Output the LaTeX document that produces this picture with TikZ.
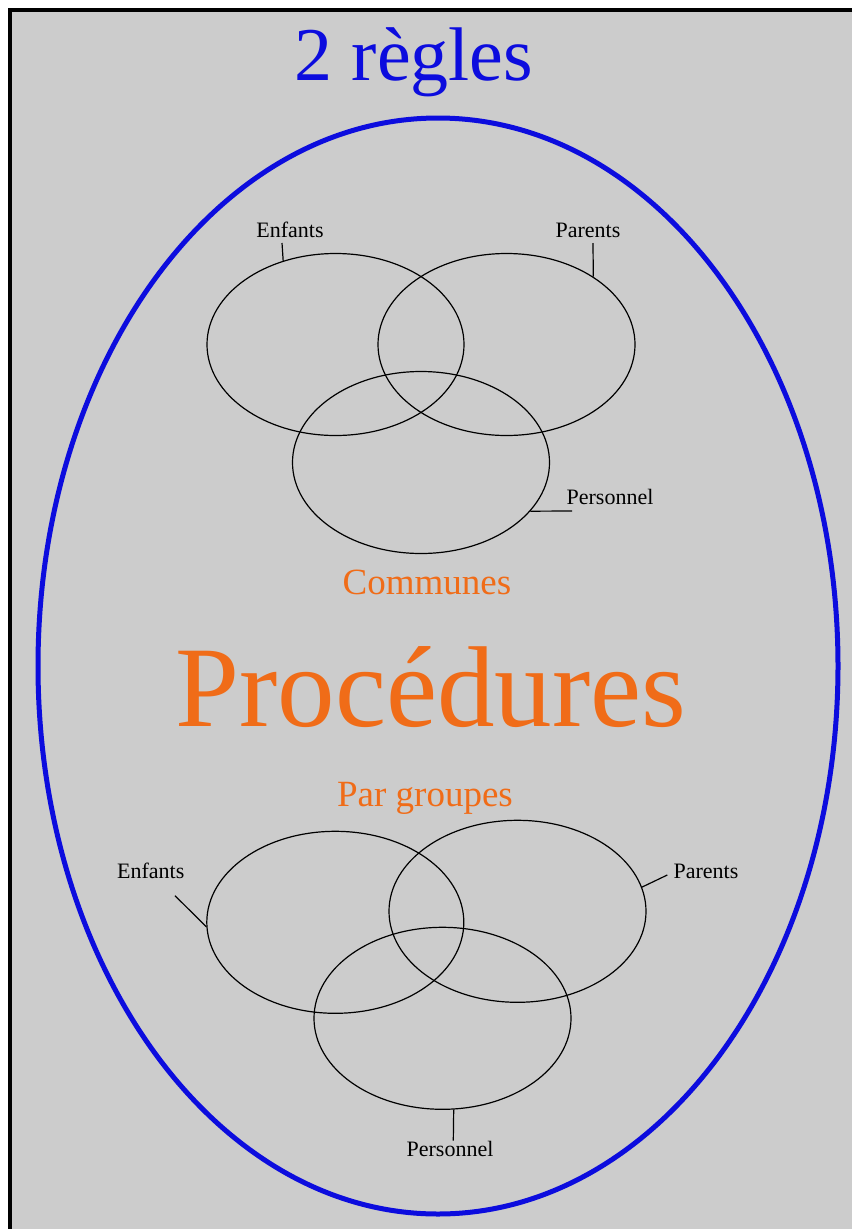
\documentclass[tikz,border=0pt]{standalone}
\usepackage{fontspec}
\setmainfont{Liberation Serif}
\usepackage{xcolor}
\definecolor{regleblue}{RGB}{12,12,222}
\definecolor{orangeproc}{RGB}{240,108,24}
\definecolor{fondgris}{RGB}{204,204,204}
\usepackage{tikz}
\usetikzlibrary{shapes.geometric}
\usetikzlibrary{positioning}

\tikzset{
  vennset/.style={shape=ellipse,draw=black,line width=1.2pt,minimum width=257pt,minimum height=182pt,inner sep=0pt},
  setlabel/.style={font=\fontsize{22}{24}\selectfont,inner sep=0pt,anchor=base},
  leader/.style={line width=1.2pt},
  titre/.style={text=orangeproc,inner sep=0pt,anchor=base}
}

\begin{document}
\begin{tikzpicture}[x=1pt,y=-1pt]
\useasboundingbox (0,0) rectangle (852,1229);
\fill[white] (0,0) rectangle (852,1229);
\fill[fondgris] (10,10) rectangle (852,1229);
\draw[line width=4pt] (852,10) -- (10,10) -- (10,1229);
\draw[regleblue,line width=5pt] (438,666) ellipse [x radius=400, y radius=548];

\node (regles) [anchor=base,inner sep=0pt,text=regleblue,font=\fontsize{76}{80}\selectfont] at (414,80) {2 règles};

\node (communes) [titre,font=\fontsize{37}{40}\selectfont] at (427,594) {Communes};
\node (procedures) [titre,font=\fontsize{115}{120}\selectfont] at (431,726) {Procédures};
\node (pargroupes) [titre,font=\fontsize{37}{40}\selectfont] at (425,806) {Par groupes};

% regles communes
\node (comEnf) [vennset] at (335.5,344.5) {};
\node (comPar) [vennset] at (506.5,344.5) {};
\node (comPer) [vennset] at (421,462.5) {};
\node (comEnfLbl) [setlabel] at (290,237) {Enfants};
\node (comParLbl) [setlabel] at (588,237) {Parents};
\node (comPerLbl) [setlabel] at (610,504) {Personnel};
\coordinate (comEnfBout) at (282,243);
\coordinate (comParBout) at (593,243);
\coordinate (comPerBout) at (572,511);
\draw[leader] (comEnfBout) -- (comEnf.122.7);
\draw[leader] (comParBout) -- (comPar.38);
\draw[leader] (comPerBout) -- (comPer.-24.2);

% regles par groupes
\node (grpEnf) [vennset] at (335.3,922.3) {};
\node (grpPar) [vennset] at (517.5,911.3) {};
\node (grpPer) [vennset] at (442.5,1018.3) {};
\node (grpEnfLbl) [setlabel] at (150.7,878) {Enfants};
\node (grpParLbl) [setlabel] at (706,878) {Parents};
\node (grpPerLbl) [setlabel] at (450,1156.7) {Personnel};
\coordinate (grpEnfBout) at (175,895.7);
\coordinate (grpParBout) at (667.3,875);
\coordinate (grpPerBout) at (453.3,1140.7);
\draw[leader] (grpEnfBout) -- (grpEnf.182.4);
\draw[leader] (grpParBout) -- (grpPar.11.6);
\draw[leader] (grpPerBout) -- (grpPer.-83.2);
\end{tikzpicture}
\end{document}
